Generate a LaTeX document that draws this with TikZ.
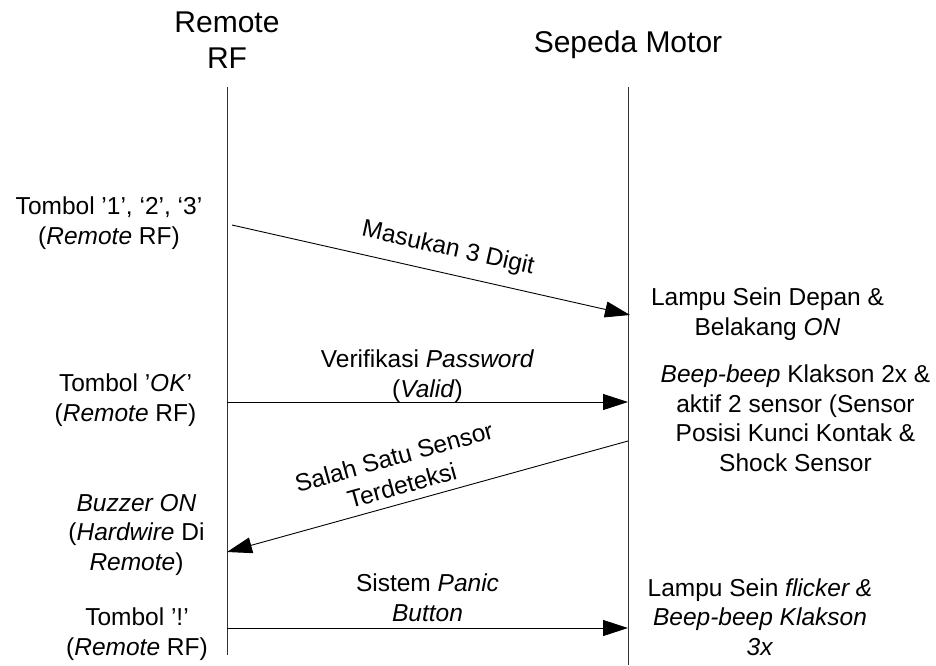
\documentclass[tikz,border=0pt]{standalone}
\usepackage{fontspec}
\setmainfont{Liberation Sans}
\usetikzlibrary{arrows.meta}

\tikzset{
  lifeline/.style={draw=black!80, line width=1pt},
  msg/.style={draw=black, line width=0.9pt, -{Triangle[length=25pt,width=16pt]}},
  actor/.style={font=\fontsize{30}{36}\selectfont, align=center, inner sep=0pt},
  note/.style={font=\fontsize{24.5}{29.5}\selectfont, align=center, inner sep=0pt, anchor=base},
  msglabel/.style={font=\fontsize{24.5}{29.5}\selectfont, align=center, inner sep=0pt},
}

\begin{document}
\begin{tikzpicture}[x=1pt,y=-1pt]
  \useasboundingbox[fill=white] (0,0) rectangle (936,665);

  % participants (base anchor sits on the last line)
  \node[actor, anchor=base] (remote) at (227,68) {Remote\\RF};
  \node[actor, anchor=base] (motor) at (628,52) {Sepeda Motor};

  % lifelines
  \coordinate (rtop) at (227,87);
  \coordinate (rbot) at (227,655);
  \coordinate (mtop) at (628,87);
  \coordinate (mbot) at (628,665);
  \draw[lifeline] (rtop) -- (rbot);
  \draw[lifeline] (mtop) -- (mbot);

  % message end points
  \coordinate (m1a) at (232,225);
  \coordinate (m1b) at (630,315);
  \coordinate (m2a) at (227,402);
  \coordinate (m2b) at (628,402);
  \coordinate (m3a) at (628,441);
  \coordinate (m3b) at (227,552);
  \coordinate (m4a) at (227,628);
  \coordinate (m4b) at (628,628);

  % messages
  \draw[msg] (m1a) -- (m1b);
  \draw[msg] (m2a) -- (m2b);
  \draw[msg] (m3a) -- (m3b);
  \draw[msg] (m4a) -- (m4b);

  % message labels
  \node[msglabel, rotate=-12.7] (l1) at (448,249) {Masukan 3 Digit};
  \node[note] (l2) at (427.5,397) {Verifikasi \textit{Password}\\(\textit{Valid})};
  \node[msglabel, rotate=15.5] (l3) at (398,471) {Salah Satu Sensor\\Terdeteksi};
  \node[note] (l4) at (427.5,621) {Sistem \textit{Panic}\\\textit{Button}};

  % actions on the remote side
  \node[note] (a1) at (109,244) {Tombol '1', `2', `3'\\(\textit{Remote} RF)};
  \node[note] (a2) at (125.5,421) {Tombol '\textit{OK}'\\(\textit{Remote} RF)};
  \node[note] (a3) at (136.5,570) {\textit{Buzzer ON}\\(\textit{Hardwire} Di\\\textit{Remote})};
  \node[note] (a4) at (137,655) {Tombol '!'\\(\textit{Remote} RF)};

  % reactions on the motorcycle side
  \node[note] (b1) at (767.5,335) {Lampu Sein Depan \&\\Belakang \textit{ON}};
  \node[note] (b2) at (795.5,471) {\textit{Beep-beep} Klakson 2x \&\\aktif 2 sensor (Sensor\\Posisi Kunci Kontak \&\\Shock Sensor};
  \node[note] (b3) at (760,655) {Lampu Sein \textit{flicker \&}\\\textit{Beep-beep Klakson}\\\textit{3x}};
\end{tikzpicture}
\end{document}
